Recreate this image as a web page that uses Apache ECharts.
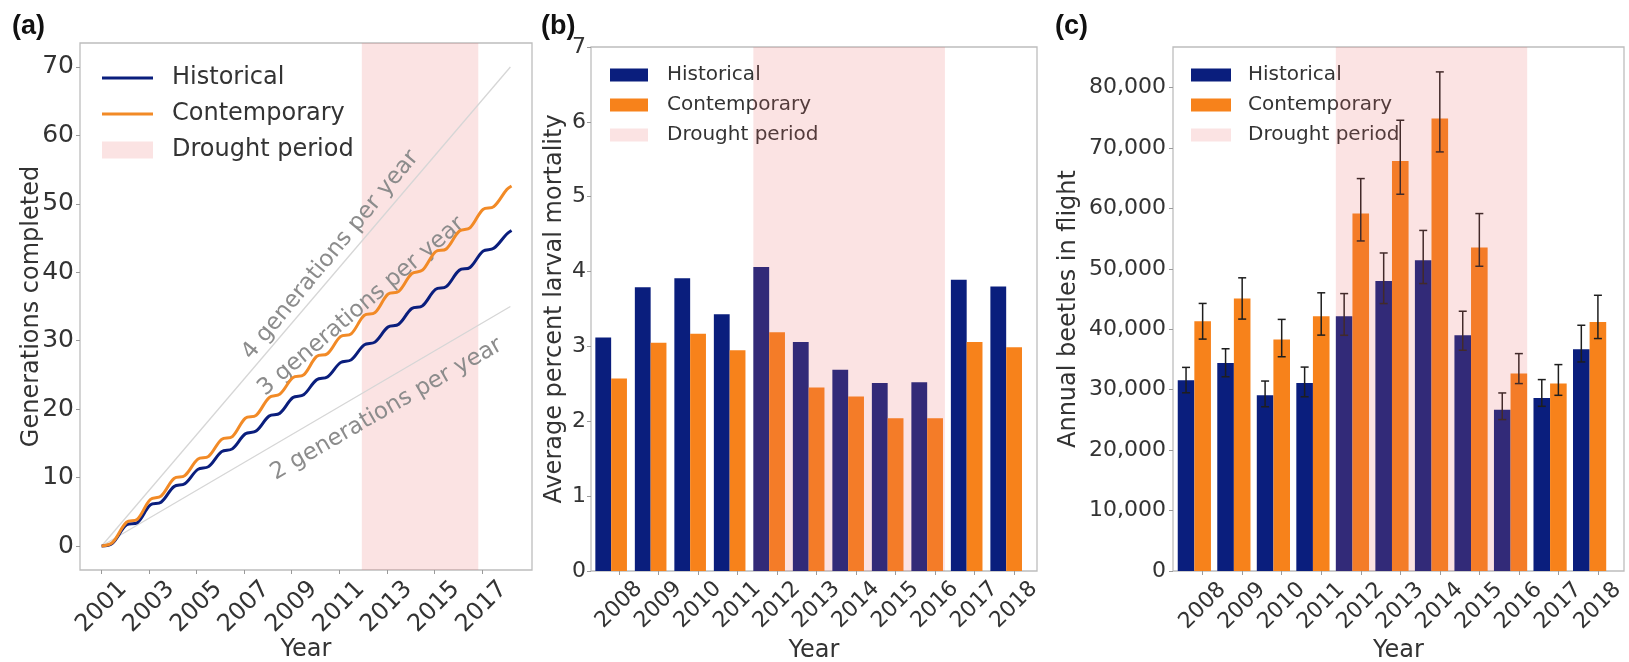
<!DOCTYPE html>
<html>
<head>
<meta charset="utf-8">
<script src="https://cdn.jsdelivr.net/npm/echarts@6/dist/echarts.min.js"></script>
<style>
html,body{margin:0;padding:0;background:#ffffff;}
#chart{width:1629px;height:662px;}
</style>
</head>
<body>
<div id="chart"></div>
<script>
// ---------- Panel (a): cumulative generations ----------
const genTickYears = [2001, 2003, 2005, 2007, 2009, 2011, 2013, 2015, 2017];
const genTickValues = [0, 10, 20, 30, 40, 50, 60, 70];
const genYears = [2001.0, 2001.45,
  2002.05, 2002.5, 2003.05, 2003.5, 2004.05, 2004.5, 2005.05, 2005.5,
  2006.05, 2006.5, 2007.05, 2007.5, 2008.05, 2008.5, 2009.05, 2009.5,
  2010.05, 2010.5, 2011.05, 2011.5, 2012.05, 2012.5, 2013.05, 2013.5,
  2014.05, 2014.5, 2015.05, 2015.5, 2016.05, 2016.5, 2017.05, 2017.5,
  2018.05, 2018.25];
const genHistorical = [0, 0.4,
  3.1, 3.4, 6.0, 6.4, 8.7, 9.1, 11.2, 11.6,
  13.8, 14.2, 16.4, 16.8, 19.0, 19.4, 21.7, 22.1,
  24.3, 24.7, 26.8, 27.2, 29.4, 29.8, 32.0, 32.4,
  34.7, 35.1, 37.5, 37.9, 40.3, 40.7, 43.1, 43.5,
  45.6, 46.1];
const genContemporary = [0, 0.5,
  3.5, 3.9, 6.8, 7.3, 9.9, 10.3, 12.7, 13.1,
  15.6, 16.0, 18.7, 19.1, 21.7, 22.2, 24.6, 25.0,
  27.7, 28.1, 30.6, 31.0, 33.7, 34.1, 36.8, 37.2,
  39.8, 40.3, 43.0, 43.4, 46.0, 46.5, 49.2, 49.6,
  52.1, 52.6];
const refYears = [2001, 2018.2];
const ref4PerYear = [0, 70];
const ref2PerYear = [0, 35];
const annoX = [2010.63, 2011.93, 2012.99];
const annoY = [42.5, 35.0, 20.0];
const annoSlope = [4.2, 2.95, 2.0];
const annoText = ['4 generations per year', '3 generations per year', '2 generations per year'];
const droughtA = [2011.95, 2016.85];

// ---------- Panel (b): larval mortality ----------
const barYears = [2008, 2009, 2010, 2011, 2012, 2013, 2014, 2015, 2016, 2017, 2018];
const mortalityHistorical = [3.12, 3.79, 3.91, 3.43, 4.06, 3.06, 2.69, 2.51, 2.52, 3.89, 3.80];
const mortalityContemporary = [2.57, 3.05, 3.17, 2.95, 3.19, 2.45, 2.33, 2.04, 2.04, 3.06, 2.99];
const droughtB = [2011.4, 2016.25];

// ---------- Panel (c): beetles in flight ----------
const beetleTickValues = [0, 10000, 20000, 30000, 40000, 50000, 60000, 70000, 80000];
const beetlesHistorical = [31560, 34420, 29080, 31110, 42150, 47990, 51420, 39000, 26700, 28630, 36690];
const beetlesHistoricalLow = [29490, 32140, 27180, 28830, 39000, 44250, 47560, 36520, 25050, 27250, 34590];
const beetlesHistoricalHigh = [33690, 36770, 31430, 33740, 45900, 52620, 56350, 42980, 29460, 31670, 40660];
const beetlesContemporary = [41320, 45080, 38290, 42150, 59140, 67850, 74860, 53520, 32660, 31010, 41200];
const beetlesContemporaryLow = [38370, 41680, 35450, 39030, 54610, 62340, 69340, 50420, 31010, 29070, 38460];
const beetlesContemporaryHigh = [44270, 48510, 41630, 46030, 64930, 74580, 82580, 59140, 35970, 34150, 45620];
const droughtC = [2011.37, 2016.21];

// ---------- styling ----------
const FONT = 'DejaVu Sans';
const NAVY = '#0a1e7d';
const ORANGE_BAR = '#f7821b';
const ORANGE_LINE = '#f28a26';
const PINK = 'rgba(232,100,100,0.18)';
const TXT = '#333333';
const FRAME = '#bdbdbd';
const W_B = 0.4;   // bar width (years) panel b
const W_C = 0.42;  // bar width (years) panel c
const LINE_ICON = 'path://M0,0 L51,0 L51,3 L0,3 Z';

function barItem(offset, width) {
  return function (params, api) {
    const x = api.value(0) + offset;
    const a = api.coord([x - width / 2, api.value(1)]);
    const b = api.coord([x + width / 2, 0]);
    return {
      type: 'rect',
      shape: { x: a[0], y: a[1], width: b[0] - a[0], height: b[1] - a[1] },
      style: { fill: api.visual('color') }
    };
  };
}
function errItem(offset) {
  return function (params, api) {
    const x = api.value(0) + offset;
    const lo = api.coord([x, api.value(1)]);
    const hi = api.coord([x, api.value(2)]);
    const st = { stroke: '#1e1e1e', lineWidth: 1.5 };
    const cap = 4;
    return {
      type: 'group',
      children: [
        { type: 'line', shape: { x1: lo[0], y1: lo[1], x2: hi[0], y2: hi[1] }, style: st },
        { type: 'line', shape: { x1: hi[0] - cap, y1: hi[1], x2: hi[0] + cap, y2: hi[1] }, style: st },
        { type: 'line', shape: { x1: lo[0] - cap, y1: lo[1], x2: lo[0] + cap, y2: lo[1] }, style: st }
      ]
    };
  };
}
function spanItem(params, api) {
  const a = api.coord([api.value(0), 0]);
  const b = api.coord([api.value(1), 0]);
  const cs = params.coordSys;
  return {
    type: 'rect',
    shape: { x: a[0], y: cs.y, width: b[0] - a[0], height: cs.height },
    style: { fill: PINK }
  };
}
function annoItem(params, api) {
  const p = api.coord([api.value(0), api.value(1)]);
  const q = api.coord([api.value(0) + 1, api.value(1) + api.value(2)]);
  const ang = Math.atan2(p[1] - q[1], q[0] - p[0]);
  return {
    type: 'text', x: p[0], y: p[1], rotation: ang,
    style: {
      text: annoText[params.dataIndex], fill: '#8c8c8c',
      fontSize: 23, fontFamily: FONT,
      align: 'center', verticalAlign: 'middle',
      textAlign: 'center', textVerticalAlign: 'middle'
    }
  };
}
const legendName = n => n.split('#')[0];
const fmtInt = v => String(Math.round(v));
const fmtComma = v => Math.round(v).toString().replace(/\B(?=(\d{3})+(?!\d))/g, ',');

function xAxisCfg(gridIndex, min, max, ticks, fontSize, margin) {
  return {
    gridIndex, type: 'value', min, max,
    axisLine: { show: false, onZero: false }, splitLine: { show: false },
    axisTick: { show: true, customValues: ticks, length: 4, lineStyle: { color: '#9a9a9a', width: 1 } },
    axisLabel: {
      customValues: ticks, rotate: 45, align: 'center', verticalAlign: 'middle',
      margin, fontSize, color: TXT, fontFamily: FONT, formatter: fmtInt
    },
    name: 'Year', nameLocation: 'middle', nameGap: 68, nameMoveOverlap: false,
    nameTextStyle: { fontSize: 24, color: TXT, fontFamily: FONT }
  };
}
const titleStyle = { fontSize: 27, fontWeight: 'bold', fontFamily: 'Liberation Sans', color: '#111' };
const gridCommon = { show: true, borderColor: FRAME, borderWidth: 1.3, backgroundColor: 'transparent', containLabel: false, outerBoundsMode: 'none' };

const option = {
  backgroundColor: '#ffffff',
  animation: false,
  title: [
    { text: '(a)', left: 12, top: 13, padding: 0, textStyle: titleStyle },
    { text: '(b)', left: 541, top: 13, padding: 0, textStyle: titleStyle },
    { text: '(c)', left: 1055, top: 13, padding: 0, textStyle: titleStyle }
  ],
  grid: [
    Object.assign({ left: 80, top: 43, width: 452, height: 527 }, gridCommon),
    Object.assign({ left: 591, top: 47, width: 446, height: 524 }, gridCommon),
    Object.assign({ left: 1173, top: 47, width: 451, height: 524 }, gridCommon)
  ],
  legend: [
    {
      left: 102, top: 66, padding: 0, orient: 'vertical', itemWidth: 51, itemHeight: 17, itemGap: 12, selectedMode: false,
      data: [
        { name: 'Historical#a', icon: LINE_ICON, itemStyle: { color: NAVY, borderWidth: 0 } },
        { name: 'Contemporary#a', icon: LINE_ICON, itemStyle: { color: ORANGE_LINE, borderWidth: 0 } },
        { name: 'Drought period#a', icon: 'rect', itemStyle: { color: PINK, borderWidth: 0 } }],
      formatter: legendName,
      textStyle: { fontSize: 24, lineHeight: 24, color: TXT, fontFamily: FONT, padding: [0, 0, 0, 14] }
    },
    {
      left: 610, top: 65, padding: 0, orient: 'vertical', itemWidth: 38, itemHeight: 13, itemGap: 10, selectedMode: false,
      data: [
        { name: 'Historical#b', icon: 'rect', itemStyle: { color: NAVY, borderWidth: 0 } },
        { name: 'Contemporary#b', icon: 'rect', itemStyle: { color: ORANGE_BAR, borderWidth: 0 } },
        { name: 'Drought period#b', icon: 'rect', itemStyle: { color: PINK, borderWidth: 0 } }],
      formatter: legendName,
      textStyle: { fontSize: 20, lineHeight: 20, color: TXT, fontFamily: FONT, padding: [0, 0, 0, 14] }
    },
    {
      left: 1191, top: 65, padding: 0, orient: 'vertical', itemWidth: 40, itemHeight: 13, itemGap: 10, selectedMode: false,
      data: [
        { name: 'Historical#c', icon: 'rect', itemStyle: { color: NAVY, borderWidth: 0 } },
        { name: 'Contemporary#c', icon: 'rect', itemStyle: { color: ORANGE_BAR, borderWidth: 0 } },
        { name: 'Drought period#c', icon: 'rect', itemStyle: { color: PINK, borderWidth: 0 } }],
      formatter: legendName,
      textStyle: { fontSize: 20, lineHeight: 20, color: TXT, fontFamily: FONT, padding: [0, 0, 0, 12] }
    }
  ],
  xAxis: [
    xAxisCfg(0, 2000.09, 2019.11, genTickYears, 24, 37),
    xAxisCfg(1, 2007.29, 2018.58, barYears, 22, 34),
    xAxisCfg(2, 2007.25, 2018.66, barYears, 22, 35)
  ],
  yAxis: [
    {
      gridIndex: 0, type: 'value', min: -3.5, max: 73.5,
      axisLine: { show: false, onZero: false }, splitLine: { show: false },
      axisTick: { show: true, customValues: genTickValues, length: 4, lineStyle: { color: '#9a9a9a' } },
      axisLabel: { customValues: genTickValues, margin: 6, fontSize: 25, color: TXT, fontFamily: FONT, formatter: fmtInt },
      name: 'Generations completed', nameLocation: 'middle', nameGap: 36, nameMoveOverlap: false,
      nameTextStyle: { fontSize: 24, color: TXT, fontFamily: FONT }
    },
    {
      gridIndex: 1, type: 'value', min: 0, max: 7, interval: 1,
      axisLine: { show: false, onZero: false }, splitLine: { show: false },
      axisTick: { show: true, length: 4, lineStyle: { color: '#9a9a9a' } },
      axisLabel: { margin: 5, fontSize: 22, color: TXT, fontFamily: FONT, formatter: fmtInt },
      name: 'Average percent larval mortality', nameLocation: 'middle', nameGap: 24, nameMoveOverlap: false,
      nameTextStyle: { fontSize: 24, color: TXT, fontFamily: FONT }
    },
    {
      gridIndex: 2, type: 'value', min: 0, max: 86700,
      axisLine: { show: false, onZero: false }, splitLine: { show: false },
      axisTick: { show: true, customValues: beetleTickValues, length: 4, lineStyle: { color: '#9a9a9a' } },
      axisLabel: { customValues: beetleTickValues, margin: 7, fontSize: 22, color: TXT, fontFamily: FONT, formatter: fmtComma },
      name: 'Annual beetles in flight', nameLocation: 'middle', nameGap: 92, nameMoveOverlap: false,
      nameTextStyle: { fontSize: 24, color: TXT, fontFamily: FONT }
    }
  ],
  series: [
    // ----- panel a -----
    { type: 'custom', name: 'Drought period#a', xAxisIndex: 0, yAxisIndex: 0, z: 1, silent: true,
      dimensions: ['start', 'end'], encode: { x: [0, 1] },
      itemStyle: { color: PINK }, data: [droughtA], renderItem: spanItem },
    { type: 'line', name: 'ref4', xAxisIndex: 0, yAxisIndex: 0, z: 2, silent: true, symbol: 'none',
      lineStyle: { width: 1.3, color: '#d6d6d6' }, data: refYears.map((x, i) => [x, ref4PerYear[i]]) },
    { type: 'line', name: 'ref2', xAxisIndex: 0, yAxisIndex: 0, z: 2, silent: true, symbol: 'none',
      lineStyle: { width: 1.3, color: '#d6d6d6' }, data: refYears.map((x, i) => [x, ref2PerYear[i]]) },
    { type: 'custom', name: 'annotations', xAxisIndex: 0, yAxisIndex: 0, z: 3, silent: true,
      data: annoX.map((x, i) => [x, annoY[i], annoSlope[i]]), renderItem: annoItem },
    { type: 'line', name: 'Historical#a', xAxisIndex: 0, yAxisIndex: 0, z: 5, symbol: 'none', smooth: 0.35,
      lineStyle: { width: 3, color: NAVY }, itemStyle: { color: NAVY },
      data: genYears.map((x, i) => [x, genHistorical[i]]) },
    { type: 'line', name: 'Contemporary#a', xAxisIndex: 0, yAxisIndex: 0, z: 5, symbol: 'none', smooth: 0.35,
      lineStyle: { width: 3, color: ORANGE_LINE }, itemStyle: { color: ORANGE_LINE },
      data: genYears.map((x, i) => [x, genContemporary[i]]) },
    // ----- panel b -----
    { type: 'custom', name: 'Historical#b', xAxisIndex: 1, yAxisIndex: 1, z: 2, itemStyle: { color: NAVY },
      encode: { x: 0, y: 1 }, data: barYears.map((x, i) => [x, mortalityHistorical[i]]), renderItem: barItem(-W_B, W_B) },
    { type: 'custom', name: 'Contemporary#b', xAxisIndex: 1, yAxisIndex: 1, z: 2, itemStyle: { color: ORANGE_BAR },
      encode: { x: 0, y: 1 }, data: barYears.map((x, i) => [x, mortalityContemporary[i]]), renderItem: barItem(0, W_B) },
    { type: 'custom', name: 'Drought period#b', xAxisIndex: 1, yAxisIndex: 1, z: 6, silent: true,
      dimensions: ['start', 'end'], encode: { x: [0, 1] },
      itemStyle: { color: PINK }, data: [droughtB], renderItem: spanItem },
    // ----- panel c -----
    { type: 'custom', name: 'Historical#c', xAxisIndex: 2, yAxisIndex: 2, z: 2, itemStyle: { color: NAVY },
      encode: { x: 0, y: 1 }, data: barYears.map((x, i) => [x, beetlesHistorical[i]]), renderItem: barItem(-W_C, W_C) },
    { type: 'custom', name: 'Contemporary#c', xAxisIndex: 2, yAxisIndex: 2, z: 2, itemStyle: { color: ORANGE_BAR },
      encode: { x: 0, y: 1 }, data: barYears.map((x, i) => [x, beetlesContemporary[i]]), renderItem: barItem(0, W_C) },
    { type: 'custom', name: 'errHist', xAxisIndex: 2, yAxisIndex: 2, z: 3, silent: true,
      encode: { x: 0, y: [1, 2] }, data: barYears.map((x, i) => [x, beetlesHistoricalLow[i], beetlesHistoricalHigh[i]]), renderItem: errItem(-W_C) },
    { type: 'custom', name: 'errCont', xAxisIndex: 2, yAxisIndex: 2, z: 3, silent: true,
      encode: { x: 0, y: [1, 2] }, data: barYears.map((x, i) => [x, beetlesContemporaryLow[i], beetlesContemporaryHigh[i]]), renderItem: errItem(0) },
    { type: 'custom', name: 'Drought period#c', xAxisIndex: 2, yAxisIndex: 2, z: 6, silent: true,
      dimensions: ['start', 'end'], encode: { x: [0, 1] },
      itemStyle: { color: PINK }, data: [droughtC], renderItem: spanItem }
  ]
};

const chart = echarts.init(document.getElementById('chart'), null, { renderer: 'canvas', width: 1629, height: 662 });
chart.setOption(option);
</script>
</body>
</html>
